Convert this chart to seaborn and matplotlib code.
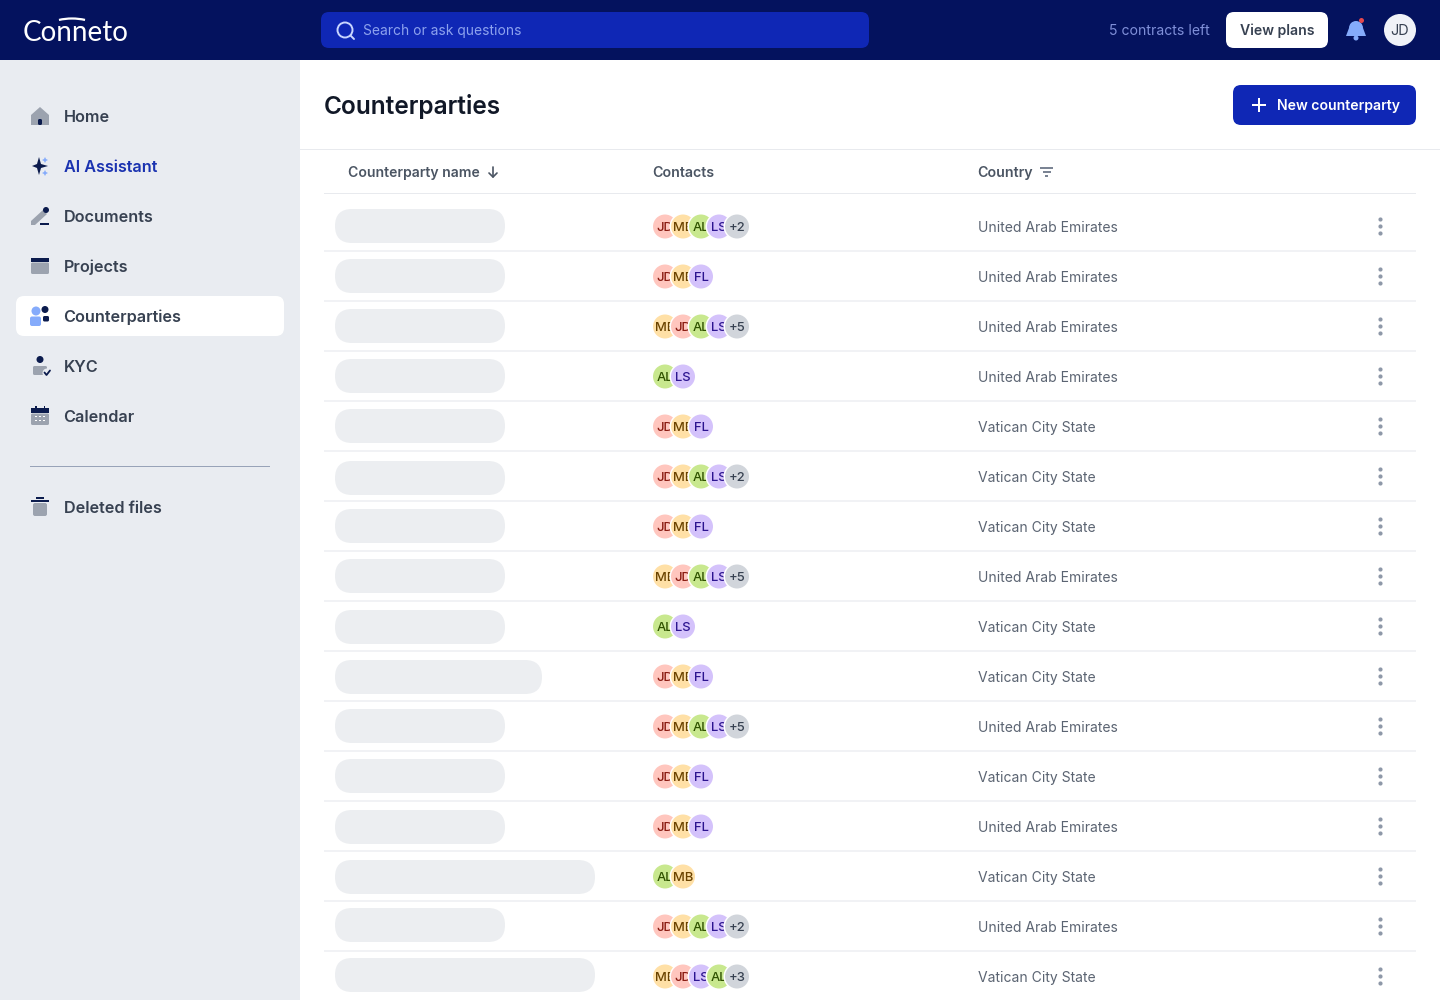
import matplotlib
matplotlib.use("Agg")
import matplotlib.pyplot as plt
import seaborn as sns
import pandas as pd
from matplotlib.patches import FancyBboxPatch, Circle, Rectangle, Polygon, Arc

# ---- data ----
nav_items = ["Home", "AI Assistant", "Documents", "Projects", "Counterparties", "KYC", "Calendar"]
nav_y = [116, 166, 216, 266, 316, 366, 416]
countries = ["United Arab Emirates"] * 4 + ["Vatican City State"] * 3 + ["United Arab Emirates",
             "Vatican City State", "Vatican City State", "United Arab Emirates", "Vatican City State",
             "United Arab Emirates", "Vatican City State", "United Arab Emirates", "Vatican City State"]
contacts = [
    ["JD", "MB", "AL", "LS", "+2"], ["JD", "MB", "FL"], ["MB", "JD", "AL", "LS", "+5"], ["AL", "LS"],
    ["JD", "MB", "FL"], ["JD", "MB", "AL", "LS", "+2"], ["JD", "MB", "FL"], ["MB", "JD", "AL", "LS", "+5"],
    ["AL", "LS"], ["JD", "MB", "FL"], ["JD", "MB", "AL", "LS", "+5"], ["JD", "MB", "FL"],
    ["JD", "MB", "FL"], ["AL", "MB"], ["JD", "MB", "AL", "LS", "+2"], ["MB", "JD", "LS", "AL", "+3"],
]
row_y = [226.5 + 50 * i for i in range(16)]
pill_y = [226, 276, 326, 376, 426, 478, 526, 576, 627, 677, 726, 776, 827, 877, 925, 975]
pill_w = [170, 170, 170, 170, 170, 170, 170, 170, 170, 207, 170, 170, 170, 260, 170, 260]

avatar_bg = {"JD": "#FFC6BE", "MB": "#FFE0A6", "AL": "#C8E88E", "LS": "#D4C2FB", "FL": "#D4C2FB"}
avatar_fg = {"JD": "#8A1C12", "MB": "#6B4300", "AL": "#2F5200", "LS": "#2C1490", "FL": "#2C1490"}

sns.set_theme(style="white")
plt.rcParams["font.family"] = ["Inter", "DejaVu Sans"]

NAVY, BLUE, SIDE = "#04125E", "#0F27B5", "#E9ECF1"
INK, DARK = "#374151", "#111827"
HEAD, BODY = "#4B5563", "#5B6472"
ICON_G, ICON_D, ICON_B = "#9CA3AF", "#0B1B4D", "#85ABFB"

fig = plt.figure(figsize=(14.4, 10), dpi=100, facecolor="white")
ax = fig.add_axes([0, 0, 1, 1])
ax.set_xlim(0, 1440)
ax.set_ylim(1000, 0)
ax.axis("off")


def rbox(x0, y0, x1, y1, r, color, z=1, **kw):
    p = FancyBboxPatch((x0, y0), x1 - x0, y1 - y0, boxstyle=f"round,pad=0,rounding_size={r}",
                       fc=color, ec="none", zorder=z, **kw)
    ax.add_patch(p)
    return p


def rect(x0, y0, x1, y1, color, z=1):
    ax.add_patch(Rectangle((x0, y0), x1 - x0, y1 - y0, fc=color, ec="none", zorder=z))


def circ(x, y, r, color, z=3):
    ax.add_patch(Circle((x, y), r, fc=color, ec="none", zorder=z))


def poly(pts, color, z=3):
    ax.add_patch(Polygon(pts, closed=True, fc=color, ec="none", zorder=z))


def txt(x, y, s, px, color, weight="normal", ha="left", z=5, **kw):
    return ax.text(x, y, s, fontsize=px * 0.72, color=color, fontweight=weight, ha=ha,
                   va="baseline", zorder=z, **kw)


# ---- backgrounds ----
rect(0, 60, 300, 1000, SIDE)
rect(0, 0, 1440, 60, NAVY, 2)

# ---- top bar ----
txt(22.5, 41.4, "Conneto", 27.8, "white", "normal", family=["Lato", "DejaVu Sans"])
ax.add_patch(Arc((72, 42.5), 76, 48, theta1=240, theta2=300, ec="white", lw=1.6, zorder=6))
rbox(321, 12, 869, 48, 8, BLUE, 3)
ax.add_patch(Circle((345, 30), 7.5, fc="none", ec="#C9D6FF", lw=1.4, zorder=5))
ax.plot([350.5, 354], [35.5, 39], color="#C9D6FF", lw=1.4, zorder=5)
txt(363, 35.3, "Search or ask questions", 13.85, "#8DA2EE")
txt(1109, 35.3, "5 contracts left", 14.0, "#7F8FD8")
rbox(1226, 12, 1328, 48, 8, "white", 3)
txt(1277, 35.3, "View plans", 14.05, INK, "semibold", ha="center")
circ(1356, 28, 7, ICON_B)
poly([(1346, 36), (1349, 28), (1363, 28), (1366, 36)], ICON_B)
circ(1356, 38, 2.5, ICON_B)
circ(1361.5, 20.5, 2.5, "#E5484D", 4)
circ(1400, 30, 16, "#F0F2F7")
txt(1400, 35.3, "JD", 14.5, INK, ha="center")

# ---- sidebar icons ----
# Home
poly([(31, 115), (40, 107), (49, 115), (49, 125), (31, 125)], ICON_G)
rbox(38, 119, 42, 125, 1.5, ICON_D, 4)
# AI Assistant
poly([(39, 157), (41, 164), (48, 166), (41, 168), (39, 175), (37, 168), (32, 166), (37, 164)], ICON_D)
poly([(45, 157), (46, 159), (48, 160), (46, 161), (45, 163), (44, 161), (42, 160), (44, 159)], ICON_B)
poly([(45, 170), (46, 172), (48, 173), (46, 174), (45, 176), (44, 174), (42, 173), (44, 172)], ICON_B)
# Documents
poly([(31, 221), (43, 210), (47, 214), (35, 225), (31, 225)], ICON_G)
circ(46, 210, 3, ICON_D)
rect(40, 223, 49, 225, ICON_D)
# Projects
rect(31, 258, 49, 262, ICON_D, 3)
rbox(31, 262.5, 49, 274, 1.5, ICON_G, 3)
# Counterparties (active)
rbox(16, 296, 284, 336, 8, "white", 2)
circ(36, 311, 4.5, ICON_B)
rbox(30, 316.5, 41, 326, 2, ICON_B, 3)
circ(45, 309.5, 3.5, ICON_D)
rbox(43, 316, 49, 321.5, 1.5, ICON_D, 3)
# KYC
circ(40, 359.5, 3.5, ICON_D)
rbox(33, 366, 47, 375, 1.5, ICON_G, 3)
circ(47, 373, 4.5, SIDE, 4)
ax.plot([44.5, 46.5, 50], [372.5, 375, 370.5], color=ICON_D, lw=1.3, zorder=5)
# Calendar
rect(31, 408, 49, 413, ICON_D, 3)
rect(35, 405.5, 36.5, 408, ICON_D, 3)
rect(43.5, 405.5, 45, 408, ICON_D, 3)
rbox(31, 413.5, 49, 425, 1.5, ICON_G, 3)
for dy in (416.5, 420.5):
    for dx in (36, 40, 44):
        rect(dx - 0.8, dy - 0.8, dx + 0.8, dy + 0.8, "white", 4)

for label, y in zip(nav_items, nav_y):
    color = "#1A32B0" if label == "AI Assistant" else INK
    txt(63.6, y + 6.3, label, 16.2, color, "semibold")
rect(30, 466, 270, 467, "#98A3B8", 3)
# Deleted files
rect(31, 499.5, 49, 501.5, ICON_D, 3)
rect(36, 497, 44, 498.5, ICON_D, 3)
rbox(33, 503, 47, 516, 2, ICON_G, 3)
txt(63.6, 513.3, "Deleted files", 16.2, INK, "semibold")

# ---- header ----
txt(324, 114.3, "Counterparties", 24.45, DARK, "semibold")
rbox(1233, 85, 1416, 125, 8, BLUE, 3)
rect(1252, 104.25, 1266, 105.75, "white", 5)
rect(1258.25, 98, 1259.75, 112, "white", 5)
txt(1277, 110.3, "New counterparty", 14.05, "white", "semibold")

# ---- table head ----
rect(300, 149, 1440, 150, "#E8EAEE", 2)
rect(324, 193, 1416, 194, "#E8EAEE", 2)
txt(348, 177.3, "Counterparty name", 14.0, HEAD, "semibold")
ax.plot([493, 493], [167, 177], color=HEAD, lw=1.2, zorder=5)
ax.plot([489, 493, 497], [173, 177, 173], color=HEAD, lw=1.2, zorder=5)
txt(652.7, 177.3, "Contacts", 14.2, HEAD, "semibold")
txt(977.7, 177.3, "Country", 14.2, HEAD, "semibold")
for y, a, b in [(167, 1040, 1053), (171, 1042.5, 1050.5), (175, 1045, 1048)]:
    rect(a, y, b, y + 2, "#7B8494", 5)

# ---- rows ----
for i, (y, py, w, who, country) in enumerate(zip(row_y, pill_y, pill_w, contacts, countries)):
    rbox(335, py - 17, 335 + w, py + 17, 17, "#ECEEF1", 2)
    if i < len(row_y) - 1:
        rect(324, y + 23.5, 1416, y + 25, "#F1F2F5", 2)
    txt(978, y + 5.3, country, 13.95, BODY)
    for j, name in enumerate(who):
        cx = 665 + 18 * j
        z = 6 + 2 * j
        if j:
            circ(cx, y, 13.5, "white", z - 0.5)
        bg = avatar_bg.get(name, "#D1D5DB")
        fg = avatar_fg.get(name, "#374151")
        circ(cx, y, 12, bg, z)
        txt(cx, y + 4.7, name, 13, fg, "medium", ha="center", z=z + 0.5)

# kebab menu dots drawn through seaborn
dots = pd.DataFrame({"x": [1379.5] * 48, "y": [y - 0.5 + d for y in row_y for d in (-7, 0, 7)]})
sns.scatterplot(data=dots, x="x", y="y", ax=ax, s=9, color="#8E98A8", linewidth=0, zorder=5, legend=False)
ax.set_xlim(0, 1440)
ax.set_ylim(1000, 0)
ax.axis("off")

fig.savefig("out.png", dpi=100, facecolor="white")
